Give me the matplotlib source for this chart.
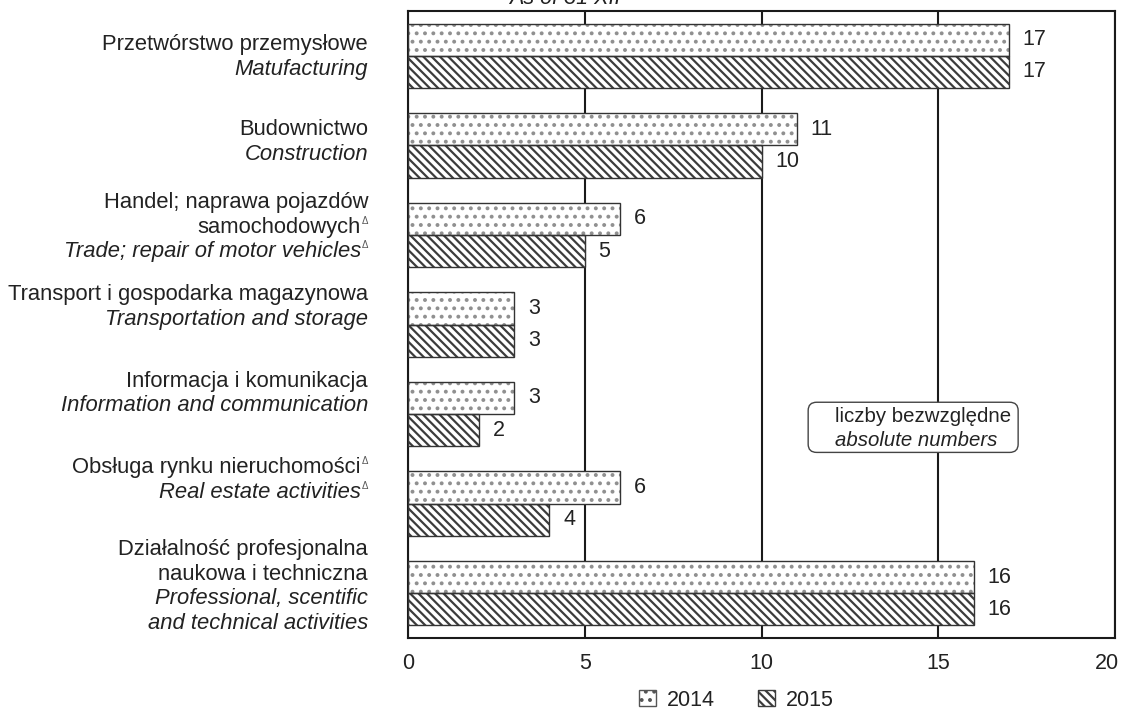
import matplotlib
matplotlib.use('Agg')
import matplotlib.pyplot as plt
from matplotlib.patches import FancyBboxPatch, Patch
from matplotlib.transforms import blended_transform_factory, ScaledTranslation

plt.rcParams['font.family'] = ['Liberation Sans', 'DejaVu Sans']
plt.rcParams['hatch.linewidth'] = 1.6

# data  (a trailing Δ is the footnote mark)
labels_pl = [
    'Przetwórstwo przemysłowe',
    'Budownictwo',
    'Handel; naprawa pojazdów\nsamochodowychΔ',
    'Transport i gospodarka magazynowa',
    'Informacja i komunikacja',
    'Obsługa rynku nieruchomościΔ',
    'Działalność profesjonalna\nnaukowa i techniczna',
]
labels_en = [
    'Matufacturing',
    'Construction',
    'Trade; repair of motor vehiclesΔ',
    'Transportation and storage',
    'Information and communication',
    'Real estate activitiesΔ',
    'Professional, scentific\nand technical activities',
]
values_2014 = [17, 11, 6, 3, 3, 6, 16]
values_2015 = [17, 10, 5, 3, 2, 4, 16]
years = ['2014', '2015']
x_ticks = [0, 5, 10, 15, 20]

# layout
W, H = 1121, 711
AX_L, AX_R, AX_T, AX_B = 408, 1115, 11, 638
label_shift = [0.5, -4, -8, -18, -21, -24, -7]   # px, per category
line_step = 24.5                                   # px
txt = '#222222'
fs = 15.5
fs_lab = 15.8

fig = plt.figure(figsize=(W / 100, H / 100), dpi=100)
ax = fig.add_axes([AX_L / W, (H - AX_B) / H, (AX_R - AX_L) / W, (AX_B - AX_T) / H])

n = len(values_2014)
px_per_cat = (AX_B - AX_T) / n
pos = list(range(n))
h = 0.36

ax.barh([p - h / 2 for p in pos], values_2014, height=h, color='white',
        edgecolor='#909090', hatch='..', lw=0, zorder=2)
ax.barh([p - h / 2 for p in pos], values_2014, height=h, fill=False,
        edgecolor='#333333', lw=1, zorder=3)
ax.barh([p + h / 2 for p in pos], values_2015, height=h, color='white',
        edgecolor='#3c3c3c', hatch='\\\\\\\\', lw=0, zorder=2)
ax.barh([p + h / 2 for p in pos], values_2015, height=h, fill=False,
        edgecolor='#333333', lw=1, zorder=3)

for p, v in zip(pos, values_2014):
    ax.annotate(str(v), xy=(v, p - h / 2), xytext=(10, 0), textcoords='offset points',
                ha='left', va='center', fontsize=fs, color=txt)
for p, v in zip(pos, values_2015):
    ax.annotate(str(v), xy=(v, p + h / 2), xytext=(10, 0), textcoords='offset points',
                ha='left', va='center', fontsize=fs, color=txt)

ax.set_xlim(0, 20)
ax.set_ylim(n - 0.5, -0.5)
ax.set_xticks(x_ticks)
ax.set_yticks([])
ax.tick_params(axis='x', length=0, pad=11, labelsize=fs, labelcolor=txt)
last = ax.get_xticklabels()[-1]
last.set_transform(last.get_transform() + ScaledTranslation(-8 / 100, 0, fig.dpi_scale_trans))
ax.set_axisbelow(True)
ax.xaxis.grid(True, color='#1a1a1a', lw=1.5)
for s in ax.spines.values():
    s.set_linewidth(1.5)
    s.set_color('#1a1a1a')

# category labels, polish lines upright, english lines italic
tr = blended_transform_factory(ax.transAxes, ax.transData)
lx = (368 - AX_L) / (AX_R - AX_L)
mark_off = ScaledTranslation(-7 / 100, 0, fig.dpi_scale_trans)
mark_up = ScaledTranslation(0, 9 / 100, fig.dpi_scale_trans)
for i in pos:
    lines = [(t, 'normal') for t in labels_pl[i].split('\n')]
    lines += [(t, 'italic') for t in labels_en[i].split('\n')]
    c = i + label_shift[i] / px_per_cat
    step = line_step / px_per_cat
    for k, (t, st) in enumerate(lines):
        y = c + (k - (len(lines) - 1) / 2) * step + 6 / px_per_cat
        if t.endswith('Δ'):
            ax.text(lx, y, t[:-1], transform=tr + mark_off, ha='right', va='baseline',
                    fontsize=fs_lab, style=st, color=txt)
            ax.text(lx, y, 'Δ', transform=tr + mark_up, ha='right', va='baseline',
                    fontsize=7, color='#555555')
        else:
            ax.text(lx, y, t, transform=tr, ha='right', va='baseline',
                    fontsize=fs_lab, style=st, color=txt)

# note box
box = FancyBboxPatch((0.566, 0.296), 0.297, 0.080,
                     boxstyle='round,pad=0,rounding_size=0.012', mutation_aspect=1.1,
                     transform=ax.transAxes, fc='white', ec='#444444', lw=1, zorder=4)
ax.add_patch(box)
ax.text(0.604, (AX_B - 417) / (AX_B - AX_T), 'liczby bezwzględne', transform=ax.transAxes,
        ha='left', va='center', fontsize=14.7, color=txt, zorder=5)
ax.text(0.604, (AX_B - 440) / (AX_B - AX_T), 'absolute numbers', transform=ax.transAxes,
        ha='left', va='center', fontsize=14.7, style='italic', color=txt, zorder=5)

# title, cut by the top edge as in the source
fig.text(565 / W, 1 - 4 / H, 'As of 31 XII', ha='center', va='baseline',
         fontsize=fs, style='italic', color=txt)

handles = [Patch(facecolor='white', edgecolor='#555555', hatch='..', lw=1),
           Patch(facecolor='white', edgecolor='#3c3c3c', hatch='\\\\\\\\', lw=1)]
fig.legend(handles, years, loc='center', bbox_to_anchor=(736 / W, 1 - 700 / H),
           ncol=2, frameon=False, fontsize=fs, handlelength=0.8, handleheight=0.8,
           handletextpad=0.5, columnspacing=2.0, labelcolor=txt)

fig.savefig('out.png', dpi=100)
